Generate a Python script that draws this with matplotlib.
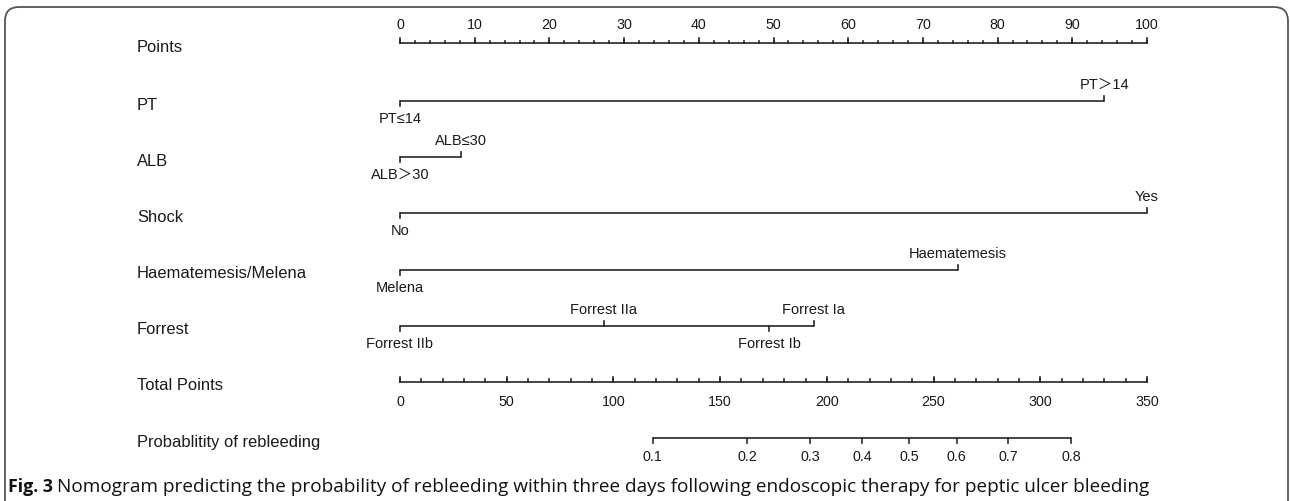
import numpy as np
import matplotlib
matplotlib.use("Agg")
import matplotlib.pyplot as plt
from matplotlib.patches import FancyBboxPatch

# ---------------- data ----------------
row_names = ["Points", "PT", "ALB", "Shock", "Haematemesis/Melena", "Forrest",
             "Total Points", "Probablitity of rebleeding"]

points_major = list(range(0, 101, 10))
points_minor = list(range(0, 101, 2))

pt_levels = ["PT≤14", "PT＞14"]
pt_points = [0, 94.3]
alb_levels = ["ALB＞30", "ALB≤30"]
alb_points = [0, 8.2]
shock_levels = ["No", "Yes"]
shock_points = [0, 100]
haem_levels = ["Melena", "Haematemesis"]
haem_points = [0, 74.7]
forrest_levels = ["Forrest IIb", "Forrest IIa", "Forrest Ib", "Forrest Ia"]
forrest_points = [0, 27.3, 49.4, 55.4]

total_max = 350
total_major = list(range(0, 351, 50))
total_minor = list(range(0, 351, 10))

prob_ticks = [0.1, 0.2, 0.3, 0.4, 0.5, 0.6, 0.7, 0.8]
prob_tick_labels = ["0.1", "0.2", "0.3", "0.4", "0.5", "0.6", "0.7", "0.8"]
logit_slope = 0.01829      # per total point
logit_center = 238.6       # total points where p = 0.5

caption_bold = "Fig. 3"
caption_text = ("Nomogram predicting the probability of rebleeding within three days "
                "following endoscopic therapy for peptic ulcer bleeding")

# ---------------- layout ----------------
W, H = 1290, 501
px0, px100 = 400, 1147
ppp = (px100 - px0) / 100.0
row_y = [43, 101, 157, 213, 270, 326, 382, 438]
label_x_px = 137

LINE = "#262626"
TXT = "#1a1a1a"
FONT = ["Liberation Sans", "Noto Sans CJK SC", "DejaVu Sans"]
plt.rcParams["font.family"] = FONT

fig = plt.figure(figsize=(W / 100, H / 100), dpi=100)
ax = fig.add_axes([0, 0, 1, 1])
ax.set_xlim(-px0 / ppp, (W - px0) / ppp)
ax.set_ylim(H, 0)
ax.axis("off")

lw = 1.2
label_x = (label_x_px - px0) / ppp

# row labels
for name, y in zip(row_names, row_y):
    ax.text(label_x, y + 4, name, fontsize=11.9, color=TXT, va="center", ha="left")

# Points axis
y = row_y[0]
ax.plot([0, 100], [y, y], color=LINE, lw=lw, solid_capstyle="butt")
for v in points_minor:
    ax.plot([v, v], [y, y - 2.5], color=LINE, lw=lw)
for v in points_major:
    ax.plot([v, v], [y, y - 5], color=LINE, lw=lw)
    ax.text(v, y - 18, str(v), fontsize=10.3, color=TXT, ha="center", va="center")

# variable rows
variables = [(pt_levels, pt_points), (alb_levels, alb_points),
             (shock_levels, shock_points), (haem_levels, haem_points),
             (forrest_levels, forrest_points)]
for (levels, pts), y in zip(variables, row_y[1:6]):
    order = np.argsort(pts)
    ax.plot([min(pts), max(pts)], [y, y], color=LINE, lw=lw, solid_capstyle="butt")
    for k, idx in enumerate(order):
        p = pts[idx]
        if k % 2 == 0:   # below
            ax.plot([p, p], [y, y + 5], color=LINE, lw=lw)
            ax.text(p, y + 18, levels[idx], fontsize=10.5, color=TXT,
                    ha="center", va="center")
        else:            # above
            ax.plot([p, p], [y, y - 5], color=LINE, lw=lw)
            ax.text(p, y - 16, levels[idx], fontsize=10.5, color=TXT,
                    ha="center", va="center")

# Total points axis
tp_scale = 100.0 / total_max
y = row_y[6]
ax.plot([0, 100], [y, y], color=LINE, lw=lw, solid_capstyle="butt")
for v in total_minor:
    ax.plot([v * tp_scale] * 2, [y, y - 3], color=LINE, lw=lw)
for v in total_major:
    ax.plot([v * tp_scale] * 2, [y, y - 5], color=LINE, lw=lw)
    ax.text(v * tp_scale, y + 20, str(v), fontsize=10.3, color=TXT,
            ha="center", va="center")

# Probability axis
y = row_y[7]
prob_tp = [logit_center + np.log(p / (1 - p)) / logit_slope for p in prob_ticks]
ax.plot([prob_tp[0] * tp_scale, prob_tp[-1] * tp_scale], [y, y], color=LINE, lw=lw,
        solid_capstyle="butt")
for tp, lab in zip(prob_tp, prob_tick_labels):
    ax.plot([tp * tp_scale] * 2, [y, y + 5], color=LINE, lw=lw)
    ax.text(tp * tp_scale, y + 19, lab, fontsize=10.3, color=TXT, ha="center", va="center")

# frame (rounded top, open bottom)
frame_ax = fig.add_axes([0, 0, 1, 1], facecolor="none")
frame_ax.set_xlim(0, W)
frame_ax.set_ylim(H, 0)
frame_ax.axis("off")
box = FancyBboxPatch((5, 7), 1283, 600, boxstyle="round,pad=0,rounding_size=14",
                     fill=False, edgecolor="#555555", lw=1.3, clip_on=True)
frame_ax.add_patch(box)

# caption, sized to span the same width as in the reference
cap_y = 487
cap_fam = ["Open Sans", "DejaVu Sans"]
t1 = frame_ax.text(8, cap_y, caption_bold, fontsize=13.5, fontweight="bold",
                   family=cap_fam, color="#111111", va="center", ha="left")
t2 = frame_ax.text(57, cap_y, caption_text, fontsize=13.5,
                   family=cap_fam, color="#111111", va="center", ha="left")
fig.canvas.draw()
r = fig.canvas.get_renderer()
w2 = t2.get_window_extent(r).width
fs = 13.5 * (1150 - 57) / w2
t2.set_fontsize(fs)
t1.set_fontsize(min(fs, 13.5) * 0.95)

fig.savefig("out.png", dpi=100)
